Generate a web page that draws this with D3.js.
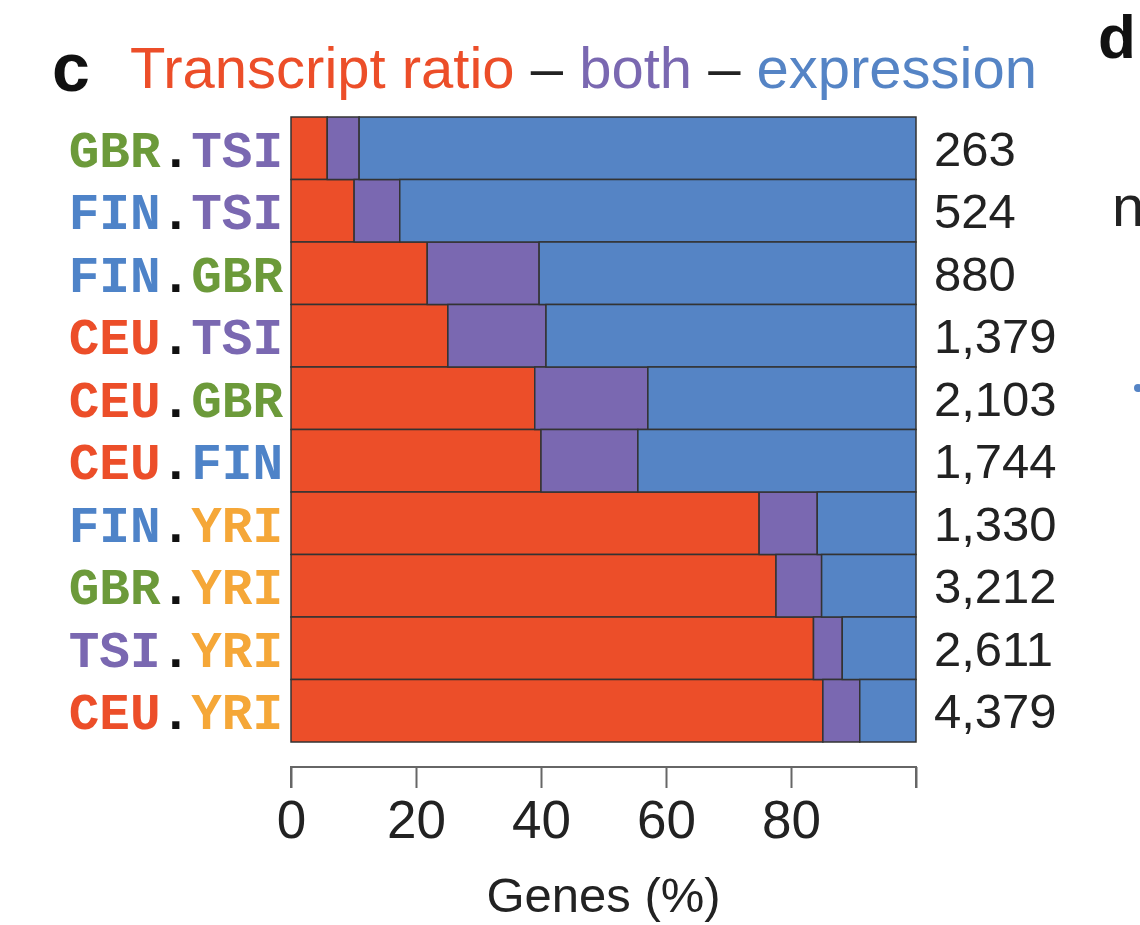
<!DOCTYPE html>
<html lang="en">
<head>
    <meta charset="UTF-8">
    <title>Transcript ratio - both - expression</title>
    <script src="https://d3js.org/d3.v7.min.js"></script>
    <style>
        body { margin: 0; background: #fff; }
        svg { display: block; }
        .sans { font-family: "Liberation Sans", Arial, sans-serif; }
        .mono { font-family: "Courier New", "Liberation Mono", monospace; font-weight: bold; }
        .axis path, .axis line { stroke: #666; stroke-width: 2; }
    </style>
</head>
<body>
    <svg width="1140" height="925"></svg>

    <script>
        // population pairs, top to bottom
        const pairA = ["GBR", "FIN", "FIN", "CEU", "CEU", "CEU", "FIN", "GBR", "TSI", "CEU"];
        const pairB = ["TSI", "TSI", "GBR", "TSI", "GBR", "FIN", "YRI", "YRI", "YRI", "YRI"];
        // gene percentages per class
        const ratio      = [5.8, 10.1, 21.8, 25.1, 39.0, 40.0, 74.9, 77.6, 83.6, 85.1];
        const both       = [5.1, 7.3, 17.9, 15.7, 18.1, 15.5, 9.3, 7.3, 4.6, 5.9];
        const expression = [89.1, 82.6, 60.3, 59.2, 42.9, 44.5, 15.8, 15.1, 11.8, 9.0];
        // gene counts shown at the right
        const counts = ["263", "524", "880", "1,379", "2,103", "1,744", "1,330", "3,212", "2,611", "4,379"];
        const xTicks = [0, 20, 40, 60, 80, 100];
        const xTickLabels = ["0", "20", "40", "60", "80", ""];

        const classes = ["ratio", "both", "expression"];
        const classColor = {ratio: "#ec4e29", both: "#7a68b1", expression: "#5584c5"};
        const popColor = {GBR: "#6c9a3a", TSI: "#7a68b1", FIN: "#4e83c8", CEU: "#ec4e29", YRI: "#f5a738"};

        const svg = d3.select("svg");
        const margin = {top: 117, right: 224, bottom: 183, left: 291};
        const width = +svg.attr("width") - margin.left - margin.right;
        const height = +svg.attr("height") - margin.top - margin.bottom;

        const rows = pairA.map((a, i) => ({
            key: a + "." + pairB[i], a: a, b: pairB[i],
            ratio: ratio[i], both: both[i], expression: expression[i], n: counts[i]
        }));

        const x = d3.scaleLinear().domain([0, 100]).range([0, width]);
        const y = d3.scaleBand().domain(rows.map(d => d.key)).range([0, height]).padding(0);

        const g = svg.append("g")
            .attr("transform", `translate(${margin.left},${margin.top})`);

        const stacked = d3.stack().keys(classes)(rows);

        g.selectAll(".layer")
            .data(stacked)
            .enter().append("g")
            .attr("class", "layer")
            .attr("fill", d => classColor[d.key])
            .selectAll("rect")
            .data(d => d)
            .enter().append("rect")
            .attr("x", d => x(d[0]))
            .attr("y", d => y(d.data.key))
            .attr("width", d => x(d[1]) - x(d[0]))
            .attr("height", y.bandwidth())
            .attr("stroke", "#333")
            .attr("stroke-width", 1.5);

        // row labels, two coloured population codes
        const lab = g.selectAll(".rowlab")
            .data(rows)
            .enter().append("text")
            .attr("class", "rowlab mono")
            .attr("x", -8)
            .attr("y", d => y(d.key) + y.bandwidth() / 2)
            .attr("dy", "0.36em")
            .attr("text-anchor", "end")
            .style("font-size", "51px");
        lab.append("tspan").attr("fill", d => popColor[d.a]).text(d => d.a);
        lab.append("tspan").attr("fill", "#111").text(".");
        lab.append("tspan").attr("fill", d => popColor[d.b]).text(d => d.b);

        // counts on the right
        g.selectAll(".count")
            .data(rows)
            .enter().append("text")
            .attr("class", "count sans")
            .attr("x", width + 18)
            .attr("y", d => y(d.key) + y.bandwidth() / 2)
            .attr("dy", "0.36em")
            .attr("fill", "#222")
            .style("font-size", "49px")
            .text(d => d.n);

        // x axis
        const xAxis = g.append("g")
            .attr("class", "axis")
            .attr("transform", `translate(0,${height + 25})`)
            .call(d3.axisBottom(x).tickValues(xTicks).tickSize(21).tickPadding(12)
                .tickFormat((d, i) => xTickLabels[i]));
        xAxis.select(".domain").attr("d", `M0,21V0H${width}V21`);
        xAxis.selectAll("text")
            .attr("class", "sans")
            .attr("fill", "#222")
            .style("font-size", "53px");

        g.append("text")
            .attr("class", "sans")
            .attr("x", width / 2)
            .attr("y", height + 170)
            .attr("text-anchor", "middle")
            .attr("fill", "#222")
            .style("font-size", "49px")
            .text("Genes (%)");

        // title
        svg.append("text")
            .attr("class", "sans")
            .attr("x", 52)
            .attr("y", 91)
            .attr("fill", "#111")
            .style("font-size", "68px")
            .style("font-weight", "bold")
            .text("c");

        const title = svg.append("text")
            .attr("class", "sans")
            .attr("x", 130)
            .attr("y", 88)
            .style("font-size", "58px");
        title.append("tspan").attr("fill", classColor.ratio).text("Transcript ratio");
        title.append("tspan").attr("fill", "#222").text(" \u2013 ");
        title.append("tspan").attr("fill", classColor.both).text("both");
        title.append("tspan").attr("fill", "#222").text(" \u2013 ");
        title.append("tspan").attr("fill", classColor.expression).text("expression");

        // edge of the neighbouring panel
        svg.append("text")
            .attr("class", "sans")
            .attr("x", 1098)
            .attr("y", 58)
            .attr("fill", "#111")
            .style("font-size", "62px")
            .style("font-weight", "bold")
            .text("d");
        svg.append("text")
            .attr("class", "sans")
            .attr("x", 1112)
            .attr("y", 226)
            .attr("fill", "#222")
            .style("font-size", "58px")
            .text("n");
        svg.append("circle")
            .attr("cx", 1138)
            .attr("cy", 388)
            .attr("r", 4)
            .attr("fill", "#5584c5");
    </script>
</body>
</html>
